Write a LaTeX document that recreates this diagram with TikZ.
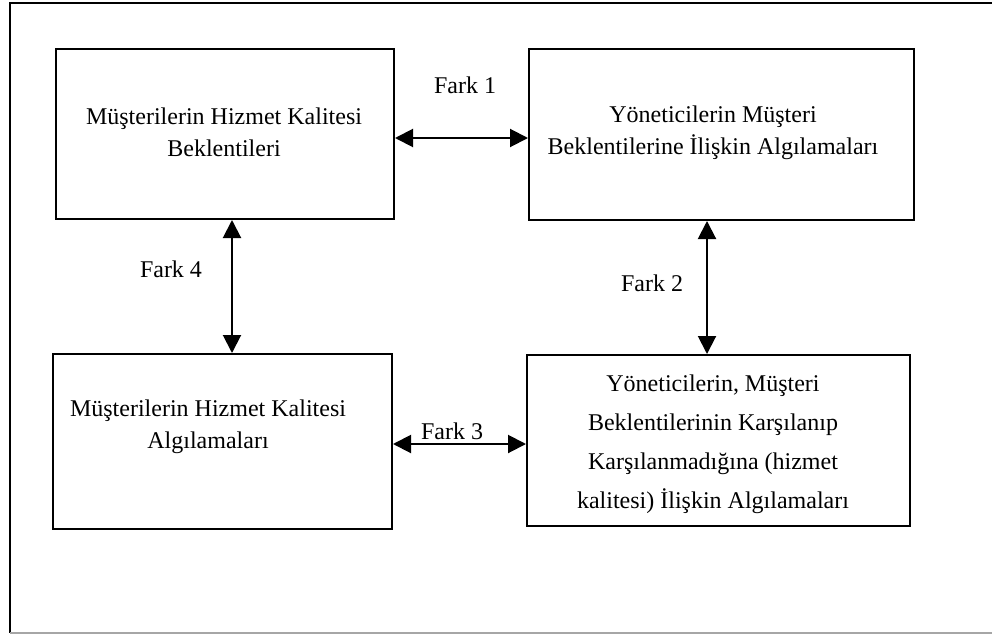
\documentclass[tikz,border=0pt]{standalone}
\usepackage{fontspec}
\setmainfont{Liberation Serif}
\usetikzlibrary{arrows.meta}
\begin{document}
\begin{tikzpicture}[x=1pt,y=-1pt,
  box/.style={draw,line width=2pt,inner sep=0pt,anchor=north west},
  txt/.style={align=center,inner sep=0pt,font=\fontsize{24}{32}\selectfont},
  lbl/.style={inner sep=0pt,font=\fontsize{24}{28}\selectfont},
  dbl/.style={line width=2pt,{Triangle[length=18pt,width=18pt]}-{Triangle[length=18pt,width=18pt]}}]
\useasboundingbox (0,0) rectangle (992,634);
% outer frame
\draw[line width=2pt] (1000,3) -- (10,3) -- (10,633);
\draw[line width=2pt,black!35] (10,633) -- (1000,633);
% boxes
\node[box,minimum width=338pt,minimum height=170pt] (b1) at (55,48) {};
\node[box,minimum width=385pt,minimum height=171pt] (b2) at (528,48) {};
\node[box,minimum width=339pt,minimum height=175pt] (b3) at (52,353) {};
\node[box,minimum width=383pt,minimum height=171pt] (b4) at (526,354) {};
% texts
\node[txt] (t1) at (224,132) {Müşterilerin Hizmet Kalitesi\\Beklentileri};
\node[txt] (t2) at (713,133) {Yöneticilerin Müşteri\\Beklentilerine İlişkin Algılamaları};
\node[txt] (t3) at (208,427) {Müşterilerin Hizmet Kalitesi\\Algılamaları};
\node[txt,font=\fontsize{24}{39}\selectfont] (t4) at (713,444) {Yöneticilerin, Müşteri\\Beklentilerinin Karşılanıp\\Karşılanmadığına (hizmet\\kalitesi) İlişkin Algılamaları};
% labels
\node[lbl] (f1) at (465,85) {Fark 1};
\node[lbl] (f2) at (652,283) {Fark 2};
\node[lbl] (f3) at (452,431) {Fark 3};
\node[lbl] (f4) at (171,269) {Fark 4};
% arrows
\coordinate (a1) at (0,138);
\coordinate (a2) at (707,0);
\coordinate (a3) at (0,444);
\coordinate (a4) at (232,0);
\draw[dbl] (b1.east |- a1) -- (b2.west |- a1);
\draw[dbl] (b2.south -| a2) -- (b4.north -| a2);
\draw[dbl] (b3.east |- a3) -- (b4.west |- a3);
\draw[dbl] (b1.south -| a4) -- (b3.north -| a4);
\end{tikzpicture}
\end{document}
